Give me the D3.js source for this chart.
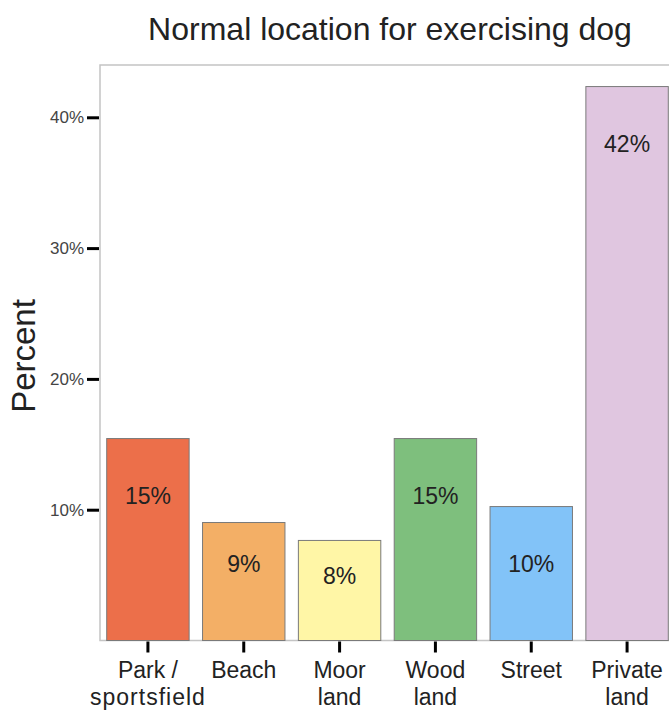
<!DOCTYPE html>
<html><head><meta charset="utf-8">
<script src="https://cdn.jsdelivr.net/npm/d3@7"></script>
<style>body{margin:0;background:#fff;} svg{display:block;font-family:Arial, "Liberation Sans", sans-serif;}</style>
</head><body>
<svg id="chart" width="669" height="711"></svg>
<script>
const categories = [["Park /","sportsfield"],["Beach"],["Moor","land"],["Wood","land"],["Street"],["Private","land"]];
const values = [15.44, 9.02, 7.65, 15.44, 10.24, 42.35];
const labels = ["15%","9%","8%","15%","10%","42%"];
const colors = ["#EC6F4A","#F3AF66","#FFF6A6","#7EBF7D","#82C3F8","#E0C6E0"];
const yTicks = [10,20,30,40];
const title = "Normal location for exercising dog";

(function(){
const FONT = "Arial, 'Liberation Sans', sans-serif";
const svg = d3.select("#chart");
const mL = 100, mR = 675, mT = 65, mB = 640.5;
const x = d3.scaleBand().domain(d3.range(values.length)).range([mL, mR]).paddingInner(0.14).paddingOuter(0.07);
const y = d3.scaleLinear().domain([0, 10]).range([mB, mB - 130.8]);

// frame
svg.append("rect").attr("x", mL).attr("y", mT).attr("width", mR - mL).attr("height", mB - mT)
  .attr("fill", "none").attr("stroke", "#c4c4c4").attr("stroke-width", 1.5);

// bars
svg.selectAll("rect.bar").data(values).enter().append("rect").attr("class","bar")
  .attr("x", (d,i) => x(i)).attr("width", x.bandwidth())
  .attr("y", d => y(d)).attr("height", d => y(0) - y(d))
  .attr("fill", (d,i) => colors[i]).attr("stroke", "#7a7a7a").attr("stroke-width", 1);

// bar labels
svg.selectAll("text.val").data(values).enter().append("text").attr("class","val")
  .attr("x", (d,i) => x(i) + x.bandwidth()/2)
  .attr("y", d => { const h = y(0) - y(d); const off = h > 130 ? 57 : h * 0.35; return y(d) + off; })
  .attr("dy", "0.36em").attr("text-anchor", "middle").attr("font-size", 23).attr("fill", "#222")
  .text((d,i) => labels[i]);

// y axis
const yAxis = d3.axisLeft(y).tickValues(yTicks).tickFormat(d => d + "%").tickSize(12).tickPadding(3);
const ga = svg.append("g").attr("transform", `translate(${mL - 1},0)`).call(yAxis)
  .attr("font-size", 17).attr("font-family", FONT);
ga.select(".domain").remove();
ga.selectAll(".tick line").attr("stroke", "#000").attr("stroke-width", 3);
ga.selectAll(".tick text").attr("fill", "#444");

// x axis
const xAxis = d3.axisBottom(x).tickSize(11).tickFormat("");
const gx = svg.append("g").attr("transform", `translate(0,${mB + 1})`).call(xAxis);
gx.select(".domain").remove();
gx.selectAll(".tick line").attr("stroke", "#000").attr("stroke-width", 3);

// category labels
categories.forEach((c, i) => {
  const cx = x(i) + x.bandwidth()/2;
  const t = svg.append("text").attr("x", cx).attr("y", 678)
    .attr("text-anchor", "middle").attr("font-size", 23).attr("fill", "#222");
  c.forEach((line, j) => {
    t.append("tspan").attr("x", cx).attr("dy", j === 0 ? 0 : 27)
      .attr("letter-spacing", line === "sportsfield" ? 1 : 0).text(line);
  });
});

// y title
svg.append("text").attr("transform", "translate(35,356) rotate(-90)").attr("text-anchor", "middle")
  .attr("font-size", 33).attr("fill", "#222").text("Percent");

// title
svg.append("text").attr("x", 390).attr("y", 40).attr("text-anchor", "middle")
  .attr("font-size", 32).attr("fill", "#222").text(title);
})();
</script>
</body></html>
